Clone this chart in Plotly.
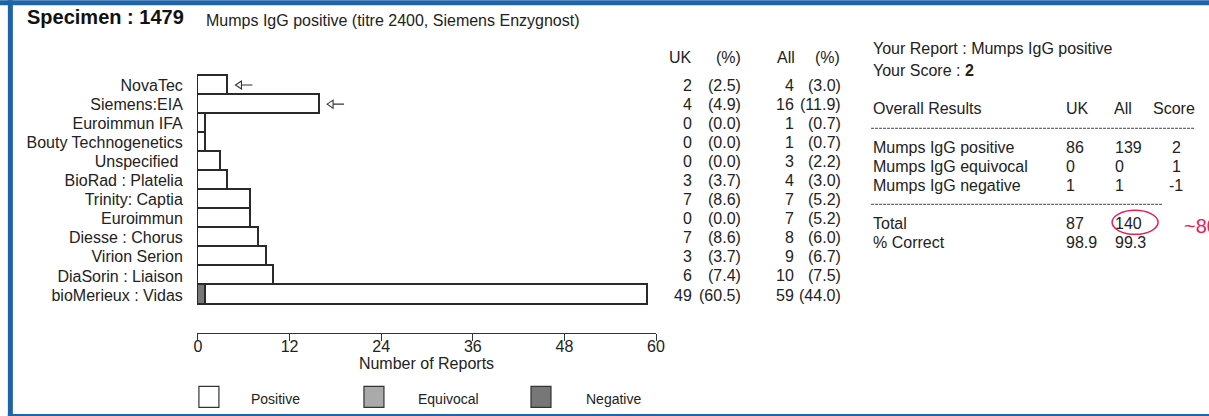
import plotly.graph_objects as go

# ---------------- data ----------------
methods = ["NovaTec", "Siemens:EIA", "Euroimmun IFA", "Bouty Technogenetics", "Unspecified ",
           "BioRad : Platelia", "Trinity: Captia", "Euroimmun", "Diesse : Chorus",
           "Virion Serion", "DiaSorin : Liaison", "bioMerieux : Vidas"]
positive = [4, 16, 1, 1, 3, 4, 7, 7, 8, 9, 10, 58]
equivocal = [0, 0, 0, 0, 0, 0, 0, 0, 0, 0, 0, 0]
negative = [0, 0, 0, 0, 0, 0, 0, 0, 0, 0, 0, 1]
uk_n = [2, 4, 0, 0, 0, 3, 7, 0, 7, 3, 6, 49]
uk_pct = [2.5, 4.9, 0.0, 0.0, 0.0, 3.7, 8.6, 0.0, 8.6, 3.7, 7.4, 60.5]
all_n = [4, 16, 1, 1, 3, 4, 7, 7, 8, 9, 10, 59]
all_pct = [3.0, 11.9, 0.7, 0.7, 2.2, 3.0, 5.2, 5.2, 6.0, 6.7, 7.5, 44.0]
arrow_rows = ["NovaTec", "Siemens:EIA"]
x_ticks = [0, 12, 24, 36, 48, 60]

overall_labels = ["Mumps IgG positive", "Mumps IgG equivocal", "Mumps IgG negative"]
overall_uk = [86, 0, 1]
overall_all = [139, 0, 1]
overall_score = [2, 1, -1]
total_uk, total_all = 87, 140
correct_uk, correct_all = 98.9, 99.3

# ---------------- layout helpers ----------------
W, H = 1209, 416
X_MIN, X_MAX = -0.12, 60
PX_UNIT = 458 / 60
L = 198 + X_MIN * PX_UNIT
R = 198 + X_MAX * PX_UNIT
ROW, Y0 = 19.08, 84.8
Y_TOP, Y_BOT = -0.58, 12.99
T = Y0 + Y_TOP * ROW
B = Y0 + Y_BOT * ROW
FONT = "Liberation Sans, Arial, sans-serif"
TXT = "#222222"
BLUE = "#1f63a8"
FS = 16


def px(x):
    return (x - L) / (R - L)


def py(y):
    return (B - y) / (B - T)


ypos = list(range(len(methods)))


def nz(v):
    return [a if a else None for a in v]


fig = go.Figure()
for vals, name, col in [(negative, "Negative", "#777777"), (equivocal, "Equivocal", "#aaaaaa"),
                        (positive, "Positive", "#ffffff")]:
    fig.add_trace(go.Bar(orientation="h", y=ypos, x=nz(vals), name=name, width=1,
                         marker=dict(color=col, line=dict(color="#2a2a2a", width=1.8))))

ann = []
shapes = []

# arrows next to bars (open-headed, pointing left)
for i, m in enumerate(methods):
    if m in arrow_rows:
        tot = positive[i] + equivocal[i] + negative[i]
        shapes.append(dict(type="path", xref="x", yref="y", xsizemode="pixel", ysizemode="pixel",
                           xanchor=tot, yanchor=i,
                           path="M 7 0 L 13 -4 L 13 4 Z M 13 0 L 24 0",
                           fillcolor="white", line=dict(color="#333333", width=1.1)))

# table
tfont = dict(family=FONT, size=FS, color=TXT)
hdr_y = py(57)
for txt, xr in [("UK", 694), ("(%)", 743), ("All", 797), ("(%)", 842)]:
    ann.append(dict(x=px(xr), y=hdr_y, xref="paper", yref="paper", text=txt, showarrow=False,
                    xanchor="right", yanchor="middle", font=tfont))
for i in ypos:
    for txt, xr in [(str(uk_n[i]), 694), (f"({uk_pct[i]:.1f})", 743),
                    (str(all_n[i]), 796), (f"({all_pct[i]:.1f})", 843)]:
        ann.append(dict(x=px(xr), y=i, xref="paper", yref="y", text=txt, showarrow=False,
                        xanchor="right", yanchor="middle", font=tfont))

# title
ann.append(dict(x=px(25), y=py(17), xref="paper", yref="paper", text="<b>Specimen : 1479</b>",
                showarrow=False, xanchor="left", yanchor="middle",
                font=dict(family=FONT, size=20, color="#111111")))
ann.append(dict(x=px(204), y=py(20), xref="paper", yref="paper",
                text="Mumps IgG positive (titre 2400, Siemens Enzygnost)",
                showarrow=False, xanchor="left", yanchor="middle",
                font=dict(family=FONT, size=16, color=TXT)))


# right panel
def rtext(x, y, t, size=FS, color=TXT):
    ann.append(dict(x=px(x), y=py(y), xref="paper", yref="paper", text=t, showarrow=False,
                    xanchor="left", yanchor="middle", font=dict(family=FONT, size=size, color=color)))


rtext(871, 48, "Your Report : Mumps IgG positive")
rtext(871, 70, "Your Score : <b>2</b>")
rtext(871, 108, "Overall Results")
rtext(1064, 108, "UK")
rtext(1112, 108, "All")
rtext(1151, 108, "Score")
for k, lab in enumerate(overall_labels):
    yy = 147 + k * 19
    rtext(871, yy, lab)
    rtext(1064, yy, str(overall_uk[k]))
    rtext(1113, yy, str(overall_all[k]))
    sc = overall_score[k]
    rtext(1170 if sc >= 0 else 1167, yy, str(sc))
rtext(871, 223, "Total")
rtext(1064, 223, str(total_uk))
rtext(1113, 223, str(total_all))
rtext(871, 242, "% Correct")
rtext(1064, 242, f"{correct_uk:.1f}")
rtext(1113, 242, f"{correct_all:.1f}")
rtext(1182, 226, "~80", size=20, color="#e8205a")

shapes.append(dict(type="line", xref="paper", yref="paper", x0=px(871), x1=px(1195), y0=py(128), y1=py(128),
                   line=dict(color="#444444", width=1, dash="3px,1px")))
shapes.append(dict(type="line", xref="paper", yref="paper", x0=px(871), x1=px(1162), y0=py(204), y1=py(204),
                   line=dict(color="#444444", width=1, dash="3px,1px")))
shapes.append(dict(type="circle", xref="paper", yref="paper", x0=px(1112), x1=px(1158), y0=py(234), y1=py(210),
                   line=dict(color="#e8205a", width=1.5)))

# legend
for (lab, col, bx, tx) in [("Positive", "#ffffff", 199, 249), ("Equivocal", "#aaaaaa", 364, 416),
                           ("Negative", "#777777", 531, 584)]:
    shapes.append(dict(type="rect", xref="paper", yref="paper", x0=px(bx), x1=px(bx + 20),
                       y0=py(407), y1=py(386), fillcolor=col, line=dict(color="#333333", width=1.2)))
    ann.append(dict(x=px(tx), y=py(399), xref="paper", yref="paper", text=lab, showarrow=False,
                    xanchor="left", yanchor="middle", font=dict(family=FONT, size=14, color=TXT)))

# blue frame
shapes.append(dict(type="rect", xref="paper", yref="paper", x0=px(0), x1=px(W), y0=py(5), y1=py(0),
                   fillcolor=BLUE, line=dict(width=0), layer="above"))
shapes.append(dict(type="rect", xref="paper", yref="paper", x0=px(8), x1=px(13), y0=py(416), y1=py(0),
                   fillcolor=BLUE, line=dict(width=0), layer="above"))
shapes.append(dict(type="rect", xref="paper", yref="paper", x0=px(8), x1=px(W), y0=py(416), y1=py(413.5),
                   fillcolor=BLUE, line=dict(width=0), layer="above"))

fig.update_layout(
    width=W, height=H,
    margin=dict(l=L, r=W - R, t=T, b=H - B, pad=0),
    paper_bgcolor="white", plot_bgcolor="white",
    barmode="stack", bargap=0, showlegend=False,
    font=dict(family=FONT, size=FS, color=TXT),
    annotations=ann, shapes=shapes,
    xaxis=dict(range=[X_MIN, X_MAX], tickvals=x_ticks, ticks="outside", ticklen=7, tickwidth=1.2,
               tickcolor="#333333", showline=True, linecolor="#333333", linewidth=1.2,
               showgrid=False, zeroline=False, fixedrange=True, ticklabelstandoff=-8,
               tickfont=dict(family=FONT, size=FS, color=TXT),
               title=dict(text="Number of Reports", standoff=3,
                          font=dict(family=FONT, size=FS, color=TXT))),
    yaxis=dict(range=[Y_BOT, Y_TOP], tickvals=ypos, ticktext=methods,
               ticks="outside", ticklen=10, tickcolor="rgba(0,0,0,0)", showline=False,
               showgrid=False, zeroline=False, fixedrange=True,
               tickfont=dict(family=FONT, size=FS, color=TXT)),
)

fig.write_html("out.html", config={"displayModeBar": False},
               post_script="document.body.style.margin='0';document.body.style.overflow='hidden';")
